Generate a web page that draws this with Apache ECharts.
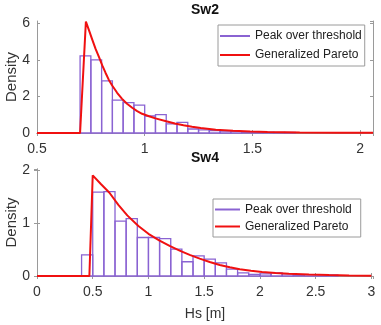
<!DOCTYPE html>
<html>
<head>
<meta charset="utf-8">
<script src="https://cdn.jsdelivr.net/npm/echarts@6/dist/echarts.min.js"></script>
<style>
  html, body { margin: 0; padding: 0; background: #fff; }
  #chart { width: 381px; height: 325px; }
</style>
</head>
<body>
<div id="chart"></div>
<script>
// Sw2 histogram (bins of 0.05 from 0.70) and fitted curve
const sw2BinStart = 0.70
const sw2BinWidth = 0.05
const sw2Density = [4.22, 4.0, 2.85, 1.8, 1.66, 1.53, 0.93, 1.01, 0.5, 0.58,
  0.22, 0.17, 0.13, 0.11, 0.09, 0.07, 0.05, 0.04, 0.03, 0.03]
const sw2CurveX = [0.5, 0.70, 0.727, 0.742, 0.757, 0.772, 0.788, 0.803, 0.818, 0.833, 0.849,
  0.872, 0.895, 0.918, 0.942, 0.965, 0.988, 1.02, 1.05, 1.10, 1.14, 1.18, 1.22, 1.26,
  1.33, 1.41, 1.49, 1.57, 1.72, 1.9, 2.06]
const sw2CurveY = [0, 0, 6.1, 5.6, 5.1, 4.6, 4.15, 3.7, 3.3, 2.92, 2.6,
  2.2, 1.87, 1.6, 1.38, 1.2, 1.05, 0.92, 0.8, 0.64, 0.52, 0.42, 0.34, 0.27,
  0.18, 0.12, 0.08, 0.055, 0.03, 0.015, 0.01]

// Sw4 histogram (bins of 0.1 from 0.40) and fitted curve
const sw4BinStart = 0.40
const sw4BinWidth = 0.1
const sw4Density = [0.4, 1.59, 1.6, 1.04, 1.09, 0.73, 0.73, 0.71, 0.51, 0.27,
  0.38, 0.32, 0.25, 0.13, 0.06, 0.03, 0.04, 0.06, 0.04, 0.01, 0, 0, 0.02]
const sw4CurveX = [0, 0.47, 0.50, 0.575, 0.65, 0.73, 0.81, 0.91, 1.0, 1.1, 1.19, 1.28,
  1.37, 1.46, 1.55, 1.64, 1.73, 1.82, 1.92, 2.02, 2.14, 2.26, 2.44, 2.62, 2.8, 3.0]
const sw4CurveY = [0, 0, 1.91, 1.74, 1.58, 1.35, 1.15, 0.95, 0.8, 0.67, 0.57, 0.48,
  0.4, 0.33, 0.265, 0.21, 0.165, 0.13, 0.1, 0.078, 0.058, 0.042, 0.027, 0.017, 0.01, 0.006]

const histName = 'Peak over threshold'
const fitName = 'Generalized Pareto'
const purple = '#8a63d2'
const red = '#f01010'
const boxColor = '#9a9a9a'
const font = 'Liberation Sans, Arial, sans-serif'

function binRows(start, width, dens) {
  return dens.map((d, i) => [start + i * width, start + (i + 1) * width, d])
}

function zip(xs, ys) {
  return xs.map((x, i) => [x, ys[i]])
}

// hollow histogram bar
function renderBin(params, api) {
  const top = api.coord([api.value(0), api.value(2)])
  const base = api.coord([api.value(1), 0])
  return {
    type: 'rect',
    shape: { x: top[0], y: top[1], width: base[0] - top[0], height: base[1] - top[1] },
    style: { fill: 'none', stroke: purple, lineWidth: 1.3 },
  }
}

function xAxisPair(gridIndex, min, max, name) {
  const common = {
    type: 'value',
    gridIndex,
    min,
    max,
    interval: 0.5,
    splitLine: { show: false },
    axisLine: { show: true, lineStyle: { color: boxColor, width: 1 } },
    axisTick: { show: true, inside: true, length: 3, lineStyle: { color: boxColor } },
  }
  return [
    {
      ...common,
      position: 'bottom',
      name,
      nameLocation: 'middle',
      nameGap: 31,
      nameMoveOverlap: false,
      nameTextStyle: { fontSize: 14, color: '#333', fontFamily: font },
      axisLabel: { fontSize: 14, color: '#333', fontFamily: font, margin: 9, showMaxLabel: false },
    },
    { ...common, position: 'top', axisLabel: { show: false } },
  ]
}

function yAxisPair(gridIndex, max, interval) {
  const common = {
    type: 'value',
    gridIndex,
    min: 0,
    max,
    interval,
    splitLine: { show: false },
    axisLine: { show: true, lineStyle: { color: boxColor, width: 1 } },
    axisTick: { show: true, inside: true, length: 3, lineStyle: { color: boxColor } },
  }
  return [
    {
      ...common,
      position: 'left',
      name: 'Density',
      nameLocation: 'middle',
      nameGap: 18,
      nameMoveOverlap: false,
      nameTextStyle: { fontSize: 15, color: '#333', fontFamily: font },
      axisLabel: { fontSize: 14, color: '#333', fontFamily: font, margin: 7, showMaxLabel: false },
    },
    { ...common, position: 'right', axisLabel: { show: false } },
  ]
}

function legendBox(left, top, iconW, lineH, gap, padRight) {
  return {
    orient: 'vertical',
    left,
    top,
    itemWidth: iconW,
    itemHeight: 2,
    itemGap: gap,
    padding: [3, padRight, 3, 2],
    borderColor: boxColor,
    borderWidth: 1,
    borderRadius: 0,
    backgroundColor: '#fff',
    selectedMode: false,
    textStyle: { fontSize: 12, color: '#222', fontFamily: font, lineHeight: lineH },
    data: [{ name: histName, icon: 'rect' }, { name: fitName, icon: 'rect' }],
  }
}

function histSeries(xi, yi, rows) {
  return {
    name: histName,
    type: 'custom',
    xAxisIndex: xi,
    yAxisIndex: yi,
    renderItem: renderBin,
    itemStyle: { color: purple },
    encode: { x: [0, 1], y: 2 },
    data: rows,
    z: 2,
  }
}

function fitSeries(xi, yi, pts) {
  return {
    name: fitName,
    type: 'line',
    xAxisIndex: xi,
    yAxisIndex: yi,
    data: pts,
    showSymbol: false,
    itemStyle: { color: red },
    lineStyle: { color: red, width: 2 },
    z: 3,
  }
}

const chart = echarts.init(document.getElementById('chart'))
chart.setOption({
  animation: false,
  backgroundColor: '#fff',
  title: [
    { text: 'Sw2', left: 205, top: 3, textAlign: 'center', padding: 0,
      textStyle: { fontSize: 14, fontWeight: 'bold', color: '#111', fontFamily: font } },
    { text: 'Sw4', left: 205, top: 151, textAlign: 'center', padding: 0,
      textStyle: { fontSize: 14, fontWeight: 'bold', color: '#111', fontFamily: font } },
  ],
  grid: [
    { left: 37, top: 21, width: 336, height: 112, outerBoundsMode: 'none' },
    { left: 37, top: 169, width: 336, height: 107, outerBoundsMode: 'none' },
  ],
  legend: [
    legendBox(218, 25, 30, 16, 3, 3),
    legendBox(213, 199, 25, 15, 2, 9),
  ],
  xAxis: [
    ...xAxisPair(0, 0.5, 2.06, ''),
    ...xAxisPair(1, 0, 3.015, 'Hs [m]'),
  ],
  yAxis: [
    ...yAxisPair(0, 6.13, 2),
    ...yAxisPair(1, 2.03, 1),
  ],
  series: [
    histSeries(0, 0, binRows(sw2BinStart, sw2BinWidth, sw2Density)),
    fitSeries(0, 0, zip(sw2CurveX, sw2CurveY)),
    histSeries(2, 2, binRows(sw4BinStart, sw4BinWidth, sw4Density)),
    fitSeries(2, 2, zip(sw4CurveX, sw4CurveY)),
  ],
})
</script>
</body>
</html>
